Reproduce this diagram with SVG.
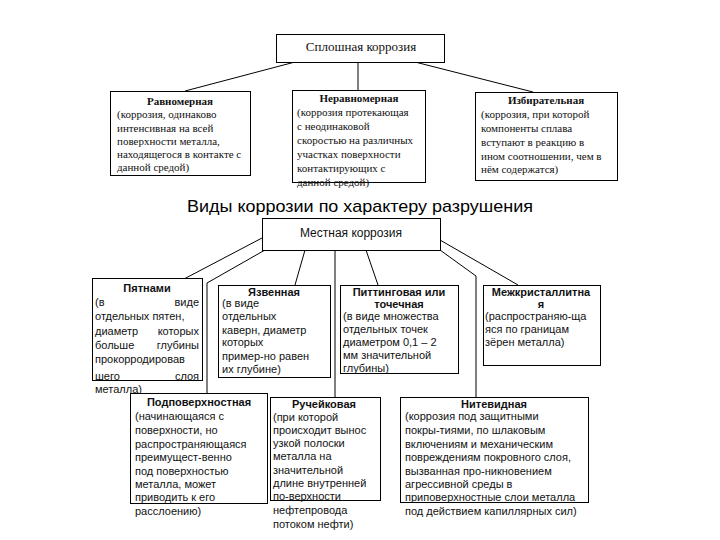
<svg xmlns="http://www.w3.org/2000/svg" width="720" height="540" viewBox="0 0 720 540">
<style>
.box{fill:#fff;stroke:#000;stroke-width:1}
.ln{stroke:#000;stroke-width:1;fill:none}
.s{font-family:"Liberation Serif","Times New Roman",serif;font-size:11px;fill:#111}
.sb{font-family:"Liberation Serif","Times New Roman",serif;font-size:11px;font-weight:bold;fill:#111}
.a{font-family:"Liberation Sans",Arial,sans-serif;font-size:11px;fill:#111}
.ab{font-family:"Liberation Sans",Arial,sans-serif;font-size:11px;font-weight:bold;fill:#111}
.c{text-anchor:middle}
.e{text-anchor:end}
</style>
<rect width="720" height="540" fill="#fff"/>
<g id="connectors">
<line class="ln" x1="295" y1="62" x2="185" y2="91"/>
<line class="ln" x1="358" y1="62" x2="358" y2="90"/>
<line class="ln" x1="415" y1="62" x2="533" y2="92"/>
<line class="ln" x1="262" y1="238" x2="184" y2="279"/>
<polyline class="ln" points="265,250 207,283 207,393"/>
<line class="ln" x1="305" y1="250" x2="295" y2="285"/>
<line class="ln" x1="335" y1="250" x2="335" y2="397"/>
<line class="ln" x1="366" y1="250" x2="378" y2="285"/>
<line class="ln" x1="440" y1="240" x2="518" y2="285"/>
<polyline class="ln" points="440,250 476,276 476,397"/>
</g>
<g id="splosh">
<rect class="box" x="276.500" y="34.500" width="168" height="28"/>
<text class="s c" x="361" y="51" style="font-size:13px">Сплошная коррозия</text>
</g>
<g id="ravnomer">
<rect class="box" x="110.500" y="91.500" width="140" height="84"/>
<text class="sb c" x="180" y="105">Равномерная</text>
<text class="s" x="117" y="118">(коррозия, одинаково</text>
<text class="s" x="117" y="132">интенсивная на всей</text>
<text class="s" x="117" y="145">поверхности металла,</text>
<text class="s" x="117" y="158">находящегося в контакте с</text>
<text class="s" x="117" y="171">данной средой)</text>
</g>
<g id="neravnomer">
<rect class="box" x="292.500" y="90.500" width="133" height="92"/>
<text class="sb c" x="359" y="102">Неравномерная</text>
<text class="s" x="297" y="116">(коррозия протекающая</text>
<text class="s" x="297" y="130">с неодинаковой</text>
<text class="s" x="297" y="144">скоростью на различных</text>
<text class="s" x="297" y="158">участках поверхности</text>
<text class="s" x="297" y="172">контактирующих с</text>
<text class="s" x="297" y="186">данной средой)</text>
</g>
<g id="izbirat">
<rect class="box" x="475.500" y="92.500" width="142" height="88"/>
<text class="sb c" x="546" y="104">Избирательная</text>
<text class="s" x="481" y="118">(коррозия, при которой</text>
<text class="s" x="481" y="132">компоненты сплава</text>
<text class="s" x="481" y="146">вступают в реакцию в</text>
<text class="s" x="481" y="160">ином соотношении, чем в</text>
<text class="s" x="481" y="173">нём содержатся)</text>
</g>
<text id="title" x="187" y="212" style="font-family:'Liberation Sans',Arial,sans-serif;font-size:17px;fill:#000" textLength="346" lengthAdjust="spacingAndGlyphs">Виды коррозии по характеру разрушения</text>
<g id="mestnaya">
<rect class="box" x="262.500" y="218.500" width="178" height="32"/>
<text class="a c" x="351" y="237" style="font-size:12px">Местная коррозия</text>
</g>
<g id="pyatnami">
<rect class="box" x="92.500" y="278.500" width="110" height="102"/>
<text class="ab c" x="147" y="292">Пятнами</text>
<text class="a" x="95" y="306">(в</text><text class="a e" x="199" y="306">виде</text>
<text class="a" x="95" y="320">отдельных пятен,</text>
<text class="a" x="95" y="335">диаметр</text><text class="a e" x="199" y="335">которых</text>
<text class="a" x="95" y="349">больше</text><text class="a e" x="199" y="349">глубины</text>
<text class="a" x="95" y="363">прокорродировав</text>
<text class="a" x="95" y="380">шего</text><text class="a e" x="199" y="380">слоя</text>
<text class="a" x="95" y="393">металла)</text>
</g>
<g id="yazvennaya">
<rect class="box" x="218.500" y="285.500" width="112" height="92"/>
<text class="ab c" x="274" y="296">Язвенная</text>
<text class="a" x="222" y="307">(в виде</text>
<text class="a" x="222" y="320">отдельных</text>
<text class="a" x="222" y="334">каверн, диаметр</text>
<text class="a" x="222" y="346">которых</text>
<text class="a" x="222" y="360">пример-но равен</text>
<text class="a" x="222" y="373">их глубине)</text>
</g>
<g id="pitting">
<rect class="box" x="340.500" y="285.500" width="118" height="88"/>
<text class="ab c" x="399" y="296">Питтинговая или</text>
<text class="ab c" x="399" y="308">точечная</text>
<text class="a" x="343" y="320">(в виде множества</text>
<text class="a" x="343" y="333">отдельных точек</text>
<text class="a" x="343" y="346">диаметром 0,1 – 2</text>
<text class="a" x="343" y="359">мм значительной</text>
<text class="a" x="343" y="372">глубины)</text>
</g>
<g id="mezhkrist">
<rect class="box" x="483.500" y="285.500" width="117" height="80"/>
<text class="ab c" x="541" y="296">Межкристаллитна</text>
<text class="ab c" x="541" y="308">я</text>
<text class="a" x="485" y="320">(распространяю-ща</text>
<text class="a" x="485" y="333">яся по границам</text>
<text class="a" x="485" y="346">зёрен металла)</text>
</g>
<g id="podpoverh">
<rect class="box" x="130.500" y="393.500" width="137" height="110"/>
<text class="ab c" x="199" y="406">Подповерхностная</text>
<text class="a" x="135" y="420">(начинающаяся с</text>
<text class="a" x="135" y="434">поверхности, но</text>
<text class="a" x="135" y="448">распространяющаяся</text>
<text class="a" x="135" y="461">преимущест-венно</text>
<text class="a" x="135" y="475">под поверхностью</text>
<text class="a" x="135" y="488">металла, может</text>
<text class="a" x="135" y="501">приводить к его</text>
<text class="a" x="135" y="515">расслоению)</text>
</g>
<g id="rucheyk">
<rect class="box" x="270.500" y="397.500" width="110" height="103"/>
<text class="ab c" x="324" y="408">Ручейковая</text>
<text class="a" x="273" y="421">(при которой</text>
<text class="a" x="273" y="434">происходит вынос</text>
<text class="a" x="273" y="447">узкой полоски</text>
<text class="a" x="273" y="460">металла на</text>
<text class="a" x="273" y="474">значительной</text>
<text class="a" x="273" y="487">длине внутренней</text>
<text class="a" x="273" y="500">по-верхности</text>
<text class="a" x="273" y="514">нефтепровода</text>
<text class="a" x="273" y="528">потоком нефти)</text>
</g>
<g id="nitevid">
<rect class="box" x="400.500" y="397.500" width="188" height="105"/>
<text class="ab c" x="494" y="408">Нитевидная</text>
<text class="a" x="405" y="420">(коррозия под защитными</text>
<text class="a" x="405" y="434">покры-тиями, по шлаковым</text>
<text class="a" x="405" y="448">включениям и механическим</text>
<text class="a" x="405" y="461">повреждениям покровного слоя,</text>
<text class="a" x="405" y="475">вызванная про-никновением</text>
<text class="a" x="405" y="488">агрессивной среды в</text>
<text class="a" x="405" y="501">приповерхностные слои металла</text>
<text class="a" x="405" y="515">под действием капиллярных сил)</text>
</g>
</svg>
